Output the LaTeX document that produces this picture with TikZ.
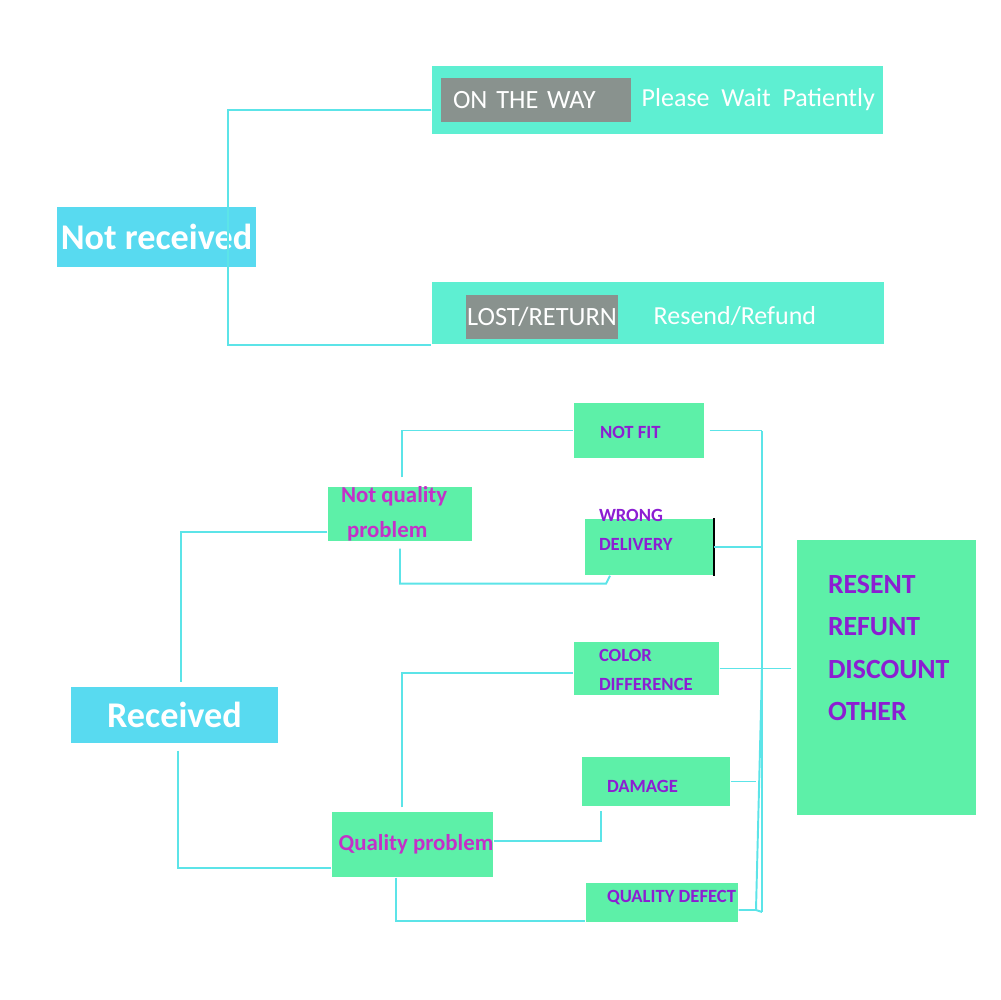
\documentclass[tikz,border=0pt]{standalone}
\usepackage{fontspec}
\setmainfont{Carlito}
\usepackage{xcolor}
\usepackage{tikz}
\usetikzlibrary{shapes, positioning, calc}
\definecolor{skyb}{RGB}{88,218,240}
\definecolor{aqua}{RGB}{94,239,210}
\definecolor{grayb}{RGB}{137,146,142}
\definecolor{mint}{RGB}{93,240,168}
\definecolor{linec}{RGB}{92,228,232}
\definecolor{magt}{RGB}{196,48,200}
\definecolor{purt}{RGB}{140,30,210}
\tikzstyle{state} = [rectangle, fill=skyb, text=white, font=\fontsize{10.3}{12}\selectfont\bfseries, inner sep=0pt]
\tikzstyle{band} = [rectangle, fill=aqua, inner sep=0pt]
\tikzstyle{tag} = [rectangle, fill=grayb, text=white, font=\fontsize{7.5}{9}\selectfont, inner sep=0pt]
\tikzstyle{hint} = [anchor=west, text=white, font=\fontsize{7.4}{9}\selectfont, inner sep=0pt]
\tikzstyle{kind} = [rectangle, fill=mint, text=magt, font=\fontsize{6.5}{10}\selectfont\bfseries, inner sep=0pt]
\tikzstyle{optbox} = [rectangle, fill=mint, inner sep=0pt]
\tikzstyle{opttext} = [anchor=west, align=left, text=purt, font=\fontsize{5.3}{8.2}\selectfont\bfseries, inner sep=0pt]
\tikzstyle{link} = [draw=linec, line width=0.55pt]

\begin{document}
\begin{tikzpicture}[x=0.1mm, y=-0.1mm]
    \useasboundingbox (0,0) rectangle (1000,1000);

    % not received
    \node (notrec) [state, minimum width=19.9mm, minimum height=6mm] at (156.5,237) {Not received};
    \node (onway) [band, minimum width=45.1mm, minimum height=6.8mm] at (657.5,100) {};
    \node (waytag) [tag, minimum width=19mm, minimum height=4.4mm, text width=16.6mm, inner xsep=1.2mm, align=left] at (536,100) {ON THE WAY};
    \node (waithint) [hint] at (641,100) {Please\ \ Wait\ \ Patiently};
    \node (lost) [band, minimum width=45.2mm, minimum height=6.2mm] at (658,313) {};
    \node (losttag) [tag, minimum width=15.2mm, minimum height=4.4mm] at (542,317) {LOST/RETURN};
    \node (resend) [hint] at (653,316) {Resend/Refund};

    \coordinate (nrbus) at (228,237);
    \draw [link] ([yshift=-1mm]onway.west) -| (nrbus) |- (lost.south west);

    % received
    \node (rec) [state, minimum width=20.7mm, minimum height=5.6mm] at (174.5,715) {Received};
    \node (nqp) [kind, minimum width=14.4mm, minimum height=5.4mm, align=left] at (400,514) {};
    \node (nqptxt) [anchor=west, align=left, text=magt, font=\fontsize{6.5}{10}\selectfont\bfseries, inner sep=0pt] at ([xshift=1.3mm]nqp.west) {Not quality\\\hspace{0.6mm}problem};
    \node (qp) [kind, minimum width=15.7mm, minimum height=6.5mm] at (412.5,844.5) {\hspace{0.7mm}Quality problem};

    \node (nfit) [optbox, minimum width=13mm, minimum height=5.5mm] at (639,430.5) {};
    \node (nfittxt) [opttext] at ([xshift=2.6mm, yshift=-0.15mm]nfit.west) {NOT FIT};
    \node (wrong) [optbox, minimum width=12.8mm, minimum height=5.6mm] at (649,547) {};
    \node (wrongtxt) [opttext] at ([xshift=1.4mm, yshift=1.75mm]wrong.west) {WRONG\\DELIVERY};
    \node (colord) [optbox, minimum width=14.5mm, minimum height=5.3mm] at (646.5,668.5) {};
    \node (colordtxt) [opttext] at ([xshift=2.5mm, yshift=-0.15mm]colord.west) {COLOR\\DIFFERENCE};
    \node (damage) [optbox, minimum width=14.8mm, minimum height=4.9mm] at (656,781.5) {};
    \node (damagetxt) [opttext] at ([xshift=2.5mm, yshift=-0.45mm]damage.west) {DAMAGE};
    \node (qdef) [optbox, minimum width=15.2mm, minimum height=3.9mm] at (662,902.5) {};
    \node (qdeftxt) [opttext] at ([xshift=2.1mm, yshift=0.45mm]qdef.west) {QUALITY DEFECT};
    \draw [black, line width=0.5pt] (wrong.north east) -- (wrong.south east);

    \node (act) [optbox, minimum width=17.9mm, minimum height=27.5mm] at (886.5,677.5) {};
    \node (acttxt) [opttext, font=\fontsize{7.9}{12}\selectfont\bfseries] at ([xshift=3.1mm, yshift=2.95mm]act.west) {RESENT\\REFUNT\\DISCOUNT\\OTHER};

    % left side
    \draw [link] ([yshift=-1.8mm]nqp.west) -| ([xshift=0.65mm, yshift=0.4mm]rec.north);
    \draw [link] ([xshift=0.35mm, yshift=-0.7mm]rec.south) |- ([yshift=-2.35mm]qp.west);
    \draw [link] ([xshift=0.2mm, yshift=0.9mm]nqp.north) |- (nfit.west);
    \draw [link] ([yshift=-0.7mm]nqp.south) |- ([xshift=-4.3mm, yshift=-0.8mm]wrong.south) -- ([xshift=-3.9mm]wrong.south);
    \draw [link] ([xshift=-1.05mm, yshift=0.4mm]qp.north) |- ([yshift=-0.45mm]colord.west);
    \draw [link] ([yshift=0.35mm]qp.east) -| ([xshift=-5.5mm, yshift=-0.4mm]damage.south);
    \draw [link] ([xshift=-1.65mm]qp.south) |- ([yshift=0.2mm]qdef.south west);

    % right side
    \coordinate (bus) at (762,431);
    \coordinate (busend) at (762,912);
    \coordinate (bend) at (756,910);
    \draw [link] (bus) -- (busend);
    \draw [link] ([xshift=0.5mm]nfit.east) -- (nfit.east -| bus);
    \draw [link] (wrong.east) -- (wrong.east -| bus);
    \draw [link] (colord.east) -- ([xshift=-0.5mm]act.west |- colord.east);
    \draw [link] (damage.east) -- (damage.east -| bend);
    \draw [link] ([yshift=-0.75mm]qdef.east) -- (bend) -- (colord.east -| bus);
    \draw [link] (bend) -- (busend);
\end{tikzpicture}
\end{document}
